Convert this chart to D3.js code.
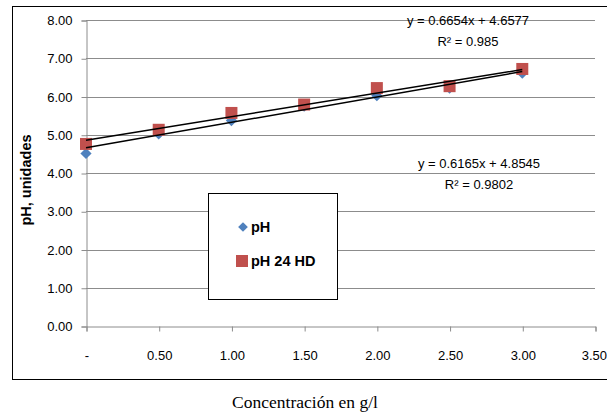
<!DOCTYPE html>
<html>
<head>
<meta charset="utf-8">
<script src="https://cdn.jsdelivr.net/npm/d3@7"></script>
<style>
  body { margin: 0; background: #fff; }
  svg { display: block; }
</style>
</head>
<body>
<svg></svg>
<script>
// chart data
var concentraciones = [0, 0.5, 1.0, 1.5, 2.0, 2.5, 3.0];
var phValues = [4.51, 5.02, 5.37, 5.75, 6.02, 6.22, 6.61];
var ph24Values = [4.76, 5.13, 5.57, 5.79, 6.22, 6.27, 6.72];
var seriesNames = ["pH", "pH 24 HD"];
var trendSlopes = [0.6654, 0.6165];
var trendIntercepts = [4.6577, 4.8545];
var trendLabels = [
  ["y = 0.6654x + 4.6577", "R² = 0.985"],
  ["y = 0.6165x + 4.8545", "R² = 0.9802"]
];
var yTicks = [0, 1, 2, 3, 4, 5, 6, 7, 8];
var xTicks = [0, 0.5, 1, 1.5, 2, 2.5, 3, 3.5];

var width = 607;
var height = 414;

var svg = d3.select("svg").attr("width", width).attr("height", height);

/* outer chart frame */
svg.append("rect")
  .attr("x", 12.5).attr("y", 6.5)
  .attr("width", 620).attr("height", 373)
  .attr("fill", "none").attr("stroke", "#000").attr("stroke-width", 1);

var xScale = d3.scaleLinear().domain([0, 3.5]).range([86, 595]);
var yScale = d3.scaleLinear().domain([0, 8]).range([326, 20]);

/* gridlines */
svg.append("g")
  .selectAll("line")
  .data(yTicks.slice(1))
  .enter()
  .append("line")
  .attr("x1", xScale(0)).attr("x2", xScale(3.5))
  .attr("y1", (d) => Math.round(yScale(d)) + 0.5)
  .attr("y2", (d) => Math.round(yScale(d)) + 0.5)
  .attr("stroke", "#8c8c8c").attr("stroke-width", 1);

/* axes */
var yAxis = d3.axisLeft(yScale)
  .tickValues(yTicks)
  .tickSize(5)
  .tickFormat((d) => d.toFixed(2));
var gy = svg.append("g")
  .attr("transform", "translate(" + (xScale(0) + 0.5) + ",0.5)")
  .call(yAxis);

var xAxis = d3.axisBottom(xScale)
  .tickValues(xTicks)
  .tickSize(5)
  .tickFormat((d) => (d === 0 ? "-" : d.toFixed(2)));
var gx = svg.append("g")
  .attr("transform", "translate(0.5," + (Math.round(yScale(0)) + 0.5) + ")")
  .call(xAxis);

[gx, gy].forEach(function (g) {
  g.selectAll(".domain").attr("stroke", "#8c8c8c");
  g.selectAll(".tick line").attr("stroke", "#8c8c8c");
  g.selectAll("text")
    .attr("fill", "#000")
    .style("font-family", "Liberation Sans, Arial, sans-serif")
    .style("font-size", "13px");
});
gy.selectAll("text").attr("x", -14);
gx.selectAll("text").attr("y", 24);
// last label sits against the right edge, keep it inside
gx.selectAll(".tick:last-of-type text").attr("text-anchor", "end").attr("x", 11);

/* axis titles */
svg.append("text")
  .attr("transform", "translate(31,180) rotate(-90)")
  .attr("text-anchor", "middle")
  .style("font-family", "Liberation Sans, Arial, sans-serif")
  .style("font-size", "14.5px")
  .style("font-weight", "bold")
  .text("pH, unidades");

svg.append("text")
  .attr("x", 305).attr("y", 408)
  .attr("text-anchor", "middle")
  .style("font-family", "Liberation Serif, Times New Roman, serif")
  .style("font-size", "17.5px")
  .text("Concentración en g/l");

/* markers */
var diamond = d3.symbol().type(d3.symbolDiamond2).size(80);

svg.append("g")
  .selectAll("path")
  .data(phValues)
  .enter()
  .append("path")
  .attr("d", diamond)
  .attr("transform", (d, i) => "translate(" + xScale(concentraciones[i]) + "," + yScale(d) + ")")
  .attr("fill", "#4f81bd");

var sq = 12;
svg.append("g")
  .selectAll("rect")
  .data(ph24Values)
  .enter()
  .append("rect")
  .attr("x", (d, i) => xScale(concentraciones[i]) - sq / 2)
  .attr("y", (d) => yScale(d) - sq / 2)
  .attr("width", sq).attr("height", sq)
  .attr("fill", "#c0504d");

/* trendlines */
var line = d3.line()
  .x((d) => xScale(d[0]))
  .y((d) => yScale(d[1]));

trendSlopes.forEach(function (m, i) {
  var b = trendIntercepts[i];
  var pts = [0, 3].map((x) => [x, m * x + b]);
  svg.append("path")
    .attr("d", line(pts))
    .attr("fill", "none")
    .attr("stroke", "#000")
    .attr("stroke-width", 1.5);
});

/* equation labels */
var labelPos = [[468, 25, 46], [479, 168, 189]];
trendLabels.forEach(function (lbl, i) {
  lbl.forEach(function (t, j) {
    svg.append("text")
      .attr("x", labelPos[i][0]).attr("y", labelPos[i][j + 1])
      .attr("text-anchor", "middle")
      .style("font-family", "Liberation Sans, Arial, sans-serif")
      .style("font-size", "13px")
      .text(t);
  });
});

/* legend */
var legend = svg.append("g");
legend.append("rect")
  .attr("x", 208.5).attr("y", 193.5)
  .attr("width", 129).attr("height", 106)
  .attr("fill", "#fff").attr("stroke", "#000").attr("stroke-width", 1);

legend.append("path")
  .attr("d", d3.symbol().type(d3.symbolDiamond2).size(60))
  .attr("transform", "translate(243,227)")
  .attr("fill", "#4f81bd");
legend.append("rect")
  .attr("x", 236).attr("y", 255)
  .attr("width", 12).attr("height", 12)
  .attr("fill", "#c0504d");

legend.selectAll("text")
  .data(seriesNames)
  .enter()
  .append("text")
  .attr("x", 251)
  .attr("y", (d, i) => 232 + i * 34)
  .style("font-family", "Liberation Sans, Arial, sans-serif")
  .style("font-size", "14.5px")
  .style("font-weight", "bold")
  .text((d) => d);
</script>
</body>
</html>
